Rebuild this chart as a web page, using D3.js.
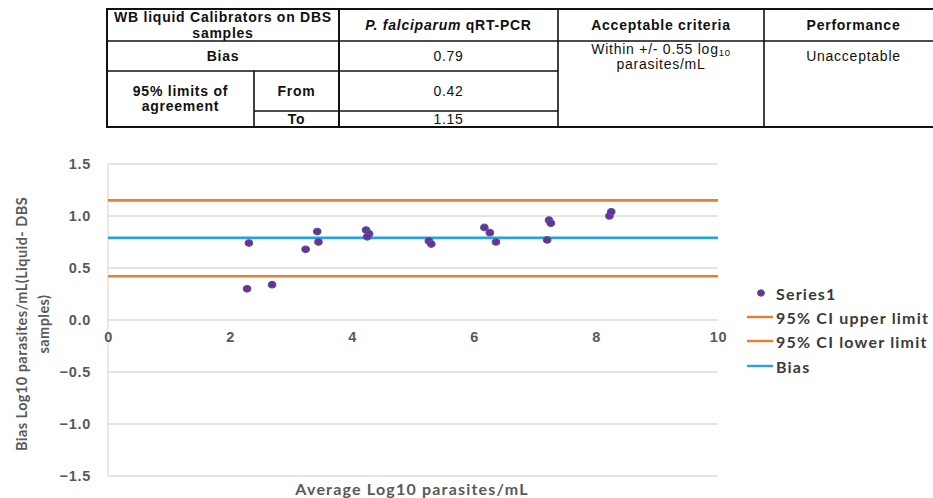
<!DOCTYPE html>
<html>
<head>
<meta charset="utf-8">
<script src="https://cdn.jsdelivr.net/npm/d3@7"></script>
<style>
  html, body { margin: 0; padding: 0; background: #fff; }
  svg { display: block; }
</style>
</head>
<body>
<svg id="chart" width="933" height="498"></svg>
<script>
// Bland–Altman data: average of the two methods vs. difference (Liquid − DBS)
const averageLog10 = [2.31, 2.28, 2.69, 3.24, 3.43, 3.45, 4.23, 4.28, 4.25, 5.26, 5.30, 6.17, 6.26, 6.36, 7.20, 7.23, 7.26, 8.22, 8.25];
const biasLog10    = [0.74, 0.30, 0.34, 0.68, 0.85, 0.75, 0.865, 0.83, 0.80, 0.76, 0.73, 0.89, 0.84, 0.75, 0.77, 0.96, 0.93, 1.00, 1.04];

const meanBias = 0.79;
const upperLimit = 1.15;
const lowerLimit = 0.42;

const xTicks = [0, 2, 4, 6, 8, 10];
const yTicks = [-1.5, -1.0, -0.5, 0.0, 0.5, 1.0, 1.5];

const legendLabels = ["Series1", "95% CI upper limit", "95% CI lower limit", "Bias"];

// Summary table content
const tableHeader = ["WB liquid Calibrators on DBS|samples", "P. falciparum qRT-PCR", "Acceptable criteria", "Performance"];
const rowLabels = ["Bias", "95% limits of|agreement", "From", "To"];
const rowValues = ["0.79", "0.42", "1.15"];
const criteriaText = "Within +/- 0.55 log";
const performanceText = "Unacceptable";

const COL = { orange: "#F07A2E", blue: "#26A3DA", grid: "#DCDCDC", tick: "#595959", text: "#3A3A3A" };

const svg = d3.select("#chart");

// ---------- Table ----------
const tbl = svg.append("g").attr("class", "table");
const tx = [107, 254, 339, 558, 764, 945];
const ty = [9, 41, 71, 111, 127];
const tfont = "'Liberation Sans', Arial, sans-serif";

function hline(x1, x2, y, w) {
  tbl.append("line").attr("x1", x1).attr("x2", x2).attr("y1", y).attr("y2", y)
    .attr("stroke", "#111").attr("stroke-width", w);
}
function vline(x, y1, y2, w) {
  tbl.append("line").attr("x1", x).attr("x2", x).attr("y1", y1).attr("y2", y2)
    .attr("stroke", "#111").attr("stroke-width", w);
}
hline(tx[0] - 1, tx[5], ty[0], 2);
hline(tx[0], tx[5], ty[1], 1.6);
hline(tx[0], tx[3], ty[2], 1.6);
hline(tx[1], tx[3], ty[3], 1.6);
hline(tx[0] - 1, tx[5], ty[4], 2);
vline(tx[0], ty[0], ty[4], 2);
vline(tx[1], ty[2], ty[4], 1.6);
vline(tx[2], ty[0], ty[4], 2);
vline(tx[3], ty[0], ty[4], 1.6);
vline(tx[4], ty[0], ty[4], 1.6);

function cellText(x, y, str, bold, italicPart) {
  const t = tbl.append("text").attr("x", x).attr("y", y)
    .attr("text-anchor", "middle").attr("dominant-baseline", "central")
    .attr("font-family", tfont).attr("font-size", 14).attr("letter-spacing", 0.75)
    .attr("font-weight", bold ? "bold" : "normal").attr("fill", "#111");
  if (italicPart) {
    t.append("tspan").attr("font-style", "italic").text(italicPart);
    t.append("tspan").text(str);
  } else {
    t.text(str);
  }
  return t;
}
// header row
const h0 = tableHeader[0].split("|");
cellText((tx[0] + tx[2]) / 2, 17, h0[0], true);
cellText((tx[0] + tx[2]) / 2, 33, h0[1], true);
cellText((tx[2] + tx[3]) / 2, 25, tableHeader[1].replace("P. falciparum", ""), true, "P. falciparum");
cellText((tx[3] + tx[4]) / 2, 25, tableHeader[2], true);
cellText((tx[4] + tx[5]) / 2 - 1, 25, tableHeader[3], true);
// body rows
cellText((tx[0] + tx[2]) / 2, 56, rowLabels[0], true);
cellText((tx[2] + tx[3]) / 2, 56, rowValues[0], false);
const lim = rowLabels[1].split("|");
cellText((tx[0] + tx[1]) / 2, 91, lim[0], true);
cellText((tx[0] + tx[1]) / 2, 106, lim[1], true);
cellText((tx[1] + tx[2]) / 2, 91, rowLabels[2], true);
cellText((tx[2] + tx[3]) / 2, 91, rowValues[1], false);
cellText((tx[1] + tx[2]) / 2, 119, rowLabels[3], true);
cellText((tx[2] + tx[3]) / 2, 119, rowValues[2], false);
const crit = cellText((tx[3] + tx[4]) / 2, 49, criteriaText, false);
crit.append("tspan").attr("font-size", 9.5).attr("dy", 3).text("10");
cellText((tx[3] + tx[4]) / 2, 64, "parasites/mL", false);
cellText((tx[4] + tx[5]) / 2 - 1, 56, performanceText, false);

// ---------- Chart ----------
const x = d3.scaleLinear().domain([0, 10]).range([108, 718]);
const y = d3.scaleLinear().domain([-1.5, 1.5]).range([476, 164]);
const chart = svg.append("g").attr("class", "chart");
const tickFont = "'Liberation Sans', Arial, sans-serif";
const labelFont = "Lato, 'Open Sans', sans-serif";

// horizontal gridlines
chart.append("g").selectAll("line").data(yTicks).join("line")
  .attr("x1", x(0)).attr("x2", x(10))
  .attr("y1", d => y(d)).attr("y2", d => y(d))
  .attr("stroke", COL.grid).attr("stroke-width", 1.3);

// vertical axis line
chart.append("line").attr("x1", x(0)).attr("x2", x(0)).attr("y1", y(1.5)).attr("y2", y(-1.5))
  .attr("stroke", COL.grid).attr("stroke-width", 1.3);

// y tick labels
const yAxis = d3.axisLeft(y).tickValues(yTicks).tickFormat(d3.format(".1f")).tickSize(0).tickPadding(17);
const yg = chart.append("g").attr("transform", `translate(${x(0)},0)`).call(yAxis);
yg.select(".domain").remove();
yg.selectAll("text").attr("font-family", tickFont).attr("font-size", 14.5)
  .attr("font-weight", "bold").attr("fill", COL.tick).attr("letter-spacing", 0.7);

// x tick labels, on the zero line
const xAxis = d3.axisBottom(x).tickValues(xTicks).tickFormat(d3.format("d")).tickSize(0).tickPadding(12);
const xg = chart.append("g").attr("transform", `translate(0,${y(0)})`).call(xAxis);
xg.select(".domain").remove();
xg.selectAll("text").attr("font-family", tickFont).attr("font-size", 14.5)
  .attr("font-weight", "bold").attr("fill", COL.tick).attr("letter-spacing", 0.6);

// reference lines
const refLines = [
  { v: upperLimit, c: COL.orange },
  { v: lowerLimit, c: COL.orange },
  { v: meanBias, c: COL.blue }
];
chart.append("g").selectAll("line").data(refLines).join("line")
  .attr("x1", x(0)).attr("x2", x(10))
  .attr("y1", d => y(d.v)).attr("y2", d => y(d.v))
  .attr("stroke", d => d.c).attr("stroke-width", 2.6);

// points
const pts = averageLog10.map((a, i) => ({ a, b: biasLog10[i] }));
chart.append("g").selectAll("ellipse").data(pts).join("ellipse")
  .attr("cx", d => x(d.a)).attr("cy", d => y(d.b))
  .attr("rx", 3.8).attr("ry", 3.3)
  .attr("fill", "#7A2A92").attr("stroke", "#3D5FA8").attr("stroke-width", 1.1);

// axis titles
chart.append("text").attr("x", 412).attr("y", 488)
  .attr("text-anchor", "middle").attr("dominant-baseline", "central")
  .attr("font-family", labelFont).attr("font-size", 16).attr("font-weight", "bold")
  .attr("letter-spacing", 1.2).attr("fill", COL.tick).text("Average Log10 parasites/mL");

const yt = chart.append("text").attr("transform", "translate(22,324) rotate(-90)")
  .attr("text-anchor", "middle").attr("font-family", labelFont).attr("letter-spacing", 0.45)
  .attr("font-size", 14.5).attr("font-weight", "bold").attr("fill", COL.tick);
yt.append("tspan").attr("x", 0).attr("dy", 5).text("Bias Log10 parasites/mL(Liquid- DBS");
yt.append("tspan").attr("x", 0).attr("dy", 22).text("samples)");

// legend
const lg = svg.append("g").attr("class", "legend");
const legY = [293, 317, 341, 366];
const legColors = [null, COL.orange, COL.orange, COL.blue];
legendLabels.forEach((lab, i) => {
  if (i === 0) {
    lg.append("ellipse").attr("cx", 761).attr("cy", legY[i]).attr("rx", 3.5).attr("ry", 3.2)
      .attr("fill", "#7A2A92").attr("stroke", "#3D5FA8").attr("stroke-width", 1);
  } else {
    lg.append("line").attr("x1", 747).attr("x2", 773).attr("y1", legY[i]).attr("y2", legY[i])
      .attr("stroke", legColors[i]).attr("stroke-width", 2.4);
  }
  lg.append("text").attr("x", 776).attr("y", legY[i]).attr("dominant-baseline", "central")
    .attr("font-family", labelFont).attr("font-size", 16).attr("font-weight", "bold")
    .attr("letter-spacing", 1.2).attr("fill", COL.text).text(lab);
});
</script>
</body>
</html>
